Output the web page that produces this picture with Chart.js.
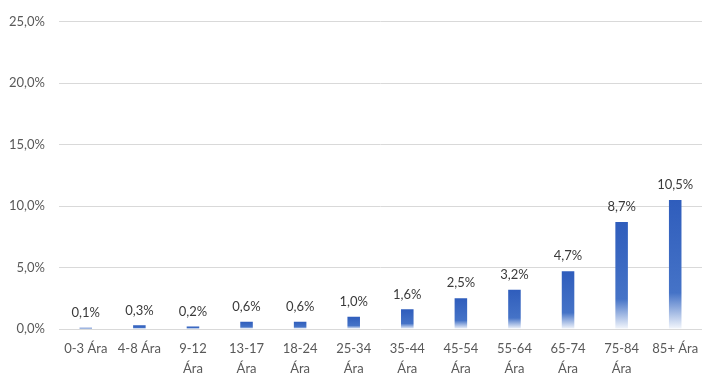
<!DOCTYPE html>
<html><head><meta charset="utf-8">
<script src="https://cdn.jsdelivr.net/npm/chart.js@4/dist/chart.umd.min.js"></script>
<style>html,body{margin:0;padding:0;background:#fff}#w{width:713px;height:382px}</style>
</head><body><div id="w"><canvas id="c"></canvas></div>
<script>
const categories = [["0-3 Ára"],["4-8 Ára"],["9-12","Ára"],["13-17","Ára"],["18-24","Ára"],["25-34","Ára"],["35-44","Ára"],["45-54","Ára"],["55-64","Ára"],["65-74","Ára"],["75-84","Ára"],["85+ Ára"]];
const values = [0.1,0.3,0.2,0.6,0.6,1.0,1.6,2.5,3.2,4.7,8.7,10.5];
const yTicks = [0,5,10,15,20,25];

const fmt = v => v.toFixed(1).replace('.', ',') + '%';
const FONT = 'Lato, "Open Sans", sans-serif';

const labelPlugin = {
  id:'vlabels',
  afterDatasetsDraw(chart){
    const ctx = chart.ctx;
    const meta = chart.getDatasetMeta(0);
    ctx.save();
    ctx.font = '13px ' + FONT;
    ctx.fillStyle = '#3A3A3A';
    ctx.textAlign = 'center';
    ctx.textBaseline = 'middle';
    meta.data.forEach((bar,i)=>{
      ctx.fillText(fmt(values[i]), bar.x, bar.y - 15);
    });
    ctx.restore();
  }
};

function barFill(context){
  const chart = context.chart;
  const ys = chart.scales && chart.scales.y;
  if(!chart.chartArea || !ys || context.raw == null) return '#3563C0';
  const y = ys.getPixelForValue(context.raw);
  const base = ys.getPixelForValue(0);
  if(!isFinite(y) || !isFinite(base) || base - y < 1) return '#3563C0';
  const g = chart.ctx.createLinearGradient(0, y, 0, base);
  g.addColorStop(0, '#2F5DBC');
  g.addColorStop(0.72, '#4573C7');
  g.addColorStop(1, '#F4F7FC');
  return g;
}

new Chart(document.getElementById('c'), {
  type:'bar',
  data:{labels:categories, datasets:[{data:values, backgroundColor:barFill, borderWidth:0, barPercentage:0.3, categoryPercentage:0.78}]},
  options:{
    responsive:true, maintainAspectRatio:false, animation:false,
    devicePixelRatio:1,
    layout:{padding:{top:20,right:11,left:0,bottom:0}},
    plugins:{legend:{display:false}, tooltip:{enabled:false}},
    scales:{
      x:{
        grid:{display:false, drawTicks:false},
        border:{display:false},
        ticks:{color:'#595959', font:{family:FONT,size:13,lineHeight:1.55}, maxRotation:0, autoSkip:false, padding:10},
        afterFit(s){ s.height = 53; }
      },
      y:{
        min:0, max:25,
        afterBuildTicks(s){ s.ticks = yTicks.map(v=>({value:v})); },
        grid:{color:'#D9D9D9', lineWidth:1, drawTicks:false},
        border:{display:false},
        ticks:{color:'#595959', font:{family:FONT,size:13}, padding:14, callback:v=>fmt(v)},
        afterFit(s){ s.width = 59; }
      }
    }
  },
  plugins:[labelPlugin]
});
</script></body></html>
